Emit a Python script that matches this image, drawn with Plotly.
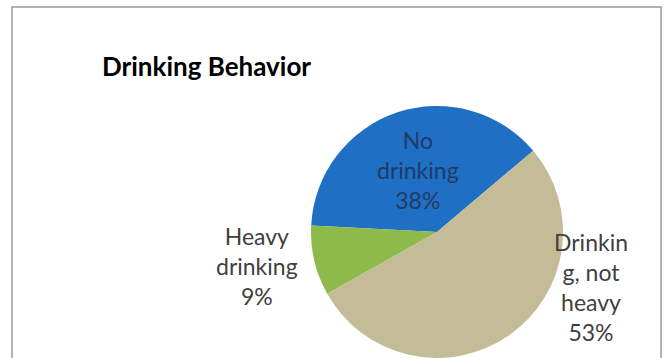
import plotly.graph_objects as go

W, H = 665, 358

# Survey breakdown of drinking behaviour (percent of respondents)
categories = ["No drinking", "Heavy drinking", "Drinking, not heavy"]
shares = [38, 9, 53]
# Labels as wrapped inside the chart's label boxes
wrapped_labels = ["No<br>drinking", "Heavy<br>drinking", "Drinkin<br>g, not<br>heavy"]
slice_colors = ["#1F6FC4", "#8DBA4B", "#C4BC97"]
label_colors = ["#1F3B66", "#404040", "#404040"]

title_text = "Drinking Behavior"

fig = go.Figure()
fig.add_trace(go.Pie(
    labels=categories,
    values=shares,
    sort=False,
    direction="counterclockwise",
    rotation=-87,
    marker=dict(colors=slice_colors, line=dict(width=0)),
    textinfo="none",
    hoverinfo="label+percent",
    showlegend=False,
    domain=dict(x=[(437 - 126) / W, (437 + 126) / W], y=[0, 252 / H]),
))

def px(x, y):
    return x / W, 1 - y / H

# Data labels, text composed from the category and its share
label_spots = [(418, 170), (257, 266), (591, 287)]
for text, val, (lx, ly), col in zip(wrapped_labels, shares, label_spots, label_colors):
    ax, ay = px(lx, ly)
    fig.add_annotation(
        x=ax, y=ay, xref="paper", yref="paper",
        text=f"{text}<br>{val}%", showarrow=False,
        xanchor="center", yanchor="middle", align="center",
        font=dict(family="Lato", size=23, color=col),
    )

tx, ty = px(100, 66)
fig.add_annotation(
    x=tx, y=ty, xref="paper", yref="paper",
    text=f"<b>{title_text}</b>", showarrow=False,
    xanchor="left", yanchor="middle",
    font=dict(family="Lato", size=26, color="#000000"),
)

# Chart area frame
fig.add_shape(
    type="rect", xref="paper", yref="paper",
    x0=12 / W, x1=661 / W, y0=-0.1, y1=1 - 7 / H,
    line=dict(color="#999999", width=1.5), fillcolor="rgba(0,0,0,0)",
)

fig.update_layout(
    width=W, height=H,
    margin=dict(l=0, r=0, t=0, b=0),
    paper_bgcolor="white", plot_bgcolor="white",
)

fig.write_html("out.html")
